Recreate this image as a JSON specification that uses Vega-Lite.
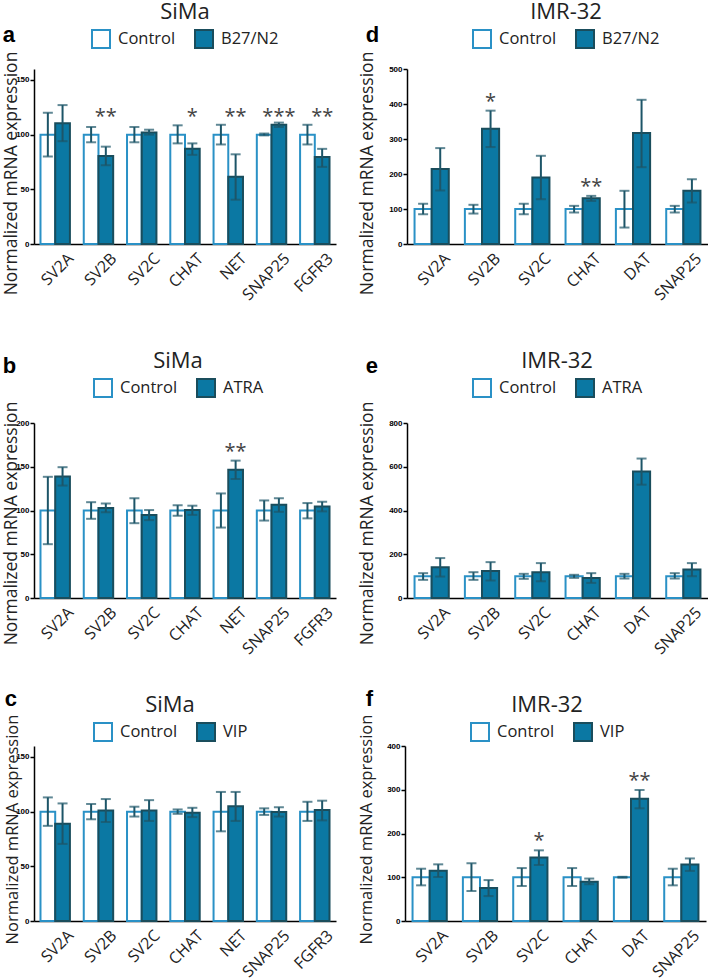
{
  "$schema": "https://vega.github.io/schema/vega-lite/v6.json",
  "padding": {"left": 2, "top": 2, "right": 0, "bottom": 0},
  "background": "white",
  "config": {
    "view": {"stroke": null},
    "font": "Open Sans",
    "scale": {"offsetBandPaddingInner": 0, "offsetBandPaddingOuter": 0},
    "title": {"anchor": "start", "frame": "bounds", "font": "Liberation Sans", "fontSize": 22, "fontWeight": "bold", "color": "#000", "offset": 0, "baseline": "alphabetic"},
    "axis": {"domainColor": "#000", "domainWidth": 1.5, "tickColor": "#000", "tickWidth": 1.5, "grid": false, "titleFont": "Open Sans", "titleFontWeight": "normal", "titleColor": "#222", "titleFontSize": 17.5},
    "axisY": {"labelFont": "Liberation Sans", "labelFontWeight": "bold", "labelFontSize": 8, "labelLineHeight": 8, "labelColor": "#000", "tickSize": 4, "labelPadding": 1, "labelAngle": 0, "labelOverlap": false},
    "axisX": {"ticks": false, "labelAngle": -45, "labelFont": "Open Sans", "labelFontSize": 16, "labelColor": "#222", "labelPadding": 6, "labelOffset": 10, "title": null},
    "legend": {"orient": "none", "direction": "horizontal", "symbolType": "square", "symbolSize": 324, "symbolStrokeWidth": 2, "labelFont": "Open Sans", "labelFontSize": 16.5, "labelColor": "#222", "labelOffset": 7, "columnPadding": 15, "titleFont": "Open Sans", "titleFontSize": 22, "titleFontWeight": "normal", "titleColor": "#222", "titleAnchor": "middle", "titlePadding": 5, "padding": 0}
  },
  "datasets": {
    "a": [
      {"gene": "SV2A", "condition": "Control", "mean": 100, "lower": 80, "upper": 120},
      {"gene": "SV2A", "condition": "B27/N2", "mean": 110.5, "lower": 94, "upper": 127},
      {"gene": "SV2B", "condition": "Control", "mean": 100, "lower": 93, "upper": 107},
      {"gene": "SV2B", "condition": "B27/N2", "mean": 80.5, "lower": 72, "upper": 89, "sig": "**"},
      {"gene": "SV2C", "condition": "Control", "mean": 100, "lower": 93, "upper": 107},
      {"gene": "SV2C", "condition": "B27/N2", "mean": 102, "lower": 100, "upper": 104.5},
      {"gene": "CHAT", "condition": "Control", "mean": 100, "lower": 92, "upper": 108.5},
      {"gene": "CHAT", "condition": "B27/N2", "mean": 87, "lower": 81.5, "upper": 92, "sig": "*"},
      {"gene": "NET", "condition": "Control", "mean": 100, "lower": 91, "upper": 109},
      {"gene": "NET", "condition": "B27/N2", "mean": 61.5, "lower": 40.5, "upper": 82, "sig": "**"},
      {"gene": "SNAP25", "condition": "Control", "mean": 100, "lower": 99.3, "upper": 101},
      {"gene": "SNAP25", "condition": "B27/N2", "mean": 109, "lower": 107, "upper": 111, "sig": "***"},
      {"gene": "FGFR3", "condition": "Control", "mean": 100, "lower": 91, "upper": 109},
      {"gene": "FGFR3", "condition": "B27/N2", "mean": 79.5, "lower": 70.5, "upper": 87, "sig": "**"}
    ],
    "b": [
      {"gene": "SV2A", "condition": "Control", "mean": 100, "lower": 61.5, "upper": 138.5},
      {"gene": "SV2A", "condition": "ATRA", "mean": 139, "lower": 128.5, "upper": 149.5},
      {"gene": "SV2B", "condition": "Control", "mean": 100, "lower": 90.5, "upper": 109.5},
      {"gene": "SV2B", "condition": "ATRA", "mean": 103, "lower": 98, "upper": 108},
      {"gene": "SV2C", "condition": "Control", "mean": 100, "lower": 85.5, "upper": 114},
      {"gene": "SV2C", "condition": "ATRA", "mean": 95, "lower": 89, "upper": 100.5},
      {"gene": "CHAT", "condition": "Control", "mean": 100, "lower": 94, "upper": 106},
      {"gene": "CHAT", "condition": "ATRA", "mean": 100.5, "lower": 95, "upper": 105.5},
      {"gene": "NET", "condition": "Control", "mean": 100, "lower": 80.5, "upper": 119.5},
      {"gene": "NET", "condition": "ATRA", "mean": 146.5, "lower": 136, "upper": 157, "sig": "**"},
      {"gene": "SNAP25", "condition": "Control", "mean": 100, "lower": 88.5, "upper": 111.5},
      {"gene": "SNAP25", "condition": "ATRA", "mean": 106.5, "lower": 98.5, "upper": 114},
      {"gene": "FGFR3", "condition": "Control", "mean": 100, "lower": 91, "upper": 108.5},
      {"gene": "FGFR3", "condition": "ATRA", "mean": 104.5, "lower": 99, "upper": 110}
    ],
    "c": [
      {"gene": "SV2A", "condition": "Control", "mean": 100, "lower": 87, "upper": 113},
      {"gene": "SV2A", "condition": "VIP", "mean": 89, "lower": 70.5, "upper": 107.5},
      {"gene": "SV2B", "condition": "Control", "mean": 100, "lower": 93, "upper": 107},
      {"gene": "SV2B", "condition": "VIP", "mean": 101, "lower": 90.5, "upper": 111.5},
      {"gene": "SV2C", "condition": "Control", "mean": 100, "lower": 95.5, "upper": 104.5},
      {"gene": "SV2C", "condition": "VIP", "mean": 101, "lower": 91.5, "upper": 110.5},
      {"gene": "CHAT", "condition": "Control", "mean": 100, "lower": 98, "upper": 102},
      {"gene": "CHAT", "condition": "VIP", "mean": 99, "lower": 95, "upper": 103.5},
      {"gene": "NET", "condition": "Control", "mean": 100, "lower": 82, "upper": 118},
      {"gene": "NET", "condition": "VIP", "mean": 105, "lower": 91.5, "upper": 118},
      {"gene": "SNAP25", "condition": "Control", "mean": 100, "lower": 97, "upper": 103},
      {"gene": "SNAP25", "condition": "VIP", "mean": 99.7, "lower": 95.5, "upper": 104},
      {"gene": "FGFR3", "condition": "Control", "mean": 100, "lower": 91.5, "upper": 109},
      {"gene": "FGFR3", "condition": "VIP", "mean": 101.5, "lower": 92, "upper": 110}
    ],
    "d": [
      {"gene": "SV2A", "condition": "Control", "mean": 100, "lower": 85, "upper": 115},
      {"gene": "SV2A", "condition": "B27/N2", "mean": 214.5, "lower": 153, "upper": 274},
      {"gene": "SV2B", "condition": "Control", "mean": 100, "lower": 87, "upper": 112},
      {"gene": "SV2B", "condition": "B27/N2", "mean": 329, "lower": 277, "upper": 381, "sig": "*"},
      {"gene": "SV2C", "condition": "Control", "mean": 100, "lower": 85, "upper": 115},
      {"gene": "SV2C", "condition": "B27/N2", "mean": 190, "lower": 128, "upper": 252},
      {"gene": "CHAT", "condition": "Control", "mean": 100, "lower": 90, "upper": 109},
      {"gene": "CHAT", "condition": "B27/N2", "mean": 130.5, "lower": 123, "upper": 137.5, "sig": "**"},
      {"gene": "DAT", "condition": "Control", "mean": 100, "lower": 47, "upper": 152},
      {"gene": "DAT", "condition": "B27/N2", "mean": 317, "lower": 219.5, "upper": 412},
      {"gene": "SNAP25", "condition": "Control", "mean": 100, "lower": 90, "upper": 109},
      {"gene": "SNAP25", "condition": "B27/N2", "mean": 152.5, "lower": 118.5, "upper": 185}
    ],
    "e": [
      {"gene": "SV2A", "condition": "Control", "mean": 100, "lower": 83, "upper": 113.5},
      {"gene": "SV2A", "condition": "ATRA", "mean": 141, "lower": 98, "upper": 182.5},
      {"gene": "SV2B", "condition": "Control", "mean": 100, "lower": 83, "upper": 118},
      {"gene": "SV2B", "condition": "ATRA", "mean": 123, "lower": 80, "upper": 164},
      {"gene": "SV2C", "condition": "Control", "mean": 100, "lower": 87.5, "upper": 110.5},
      {"gene": "SV2C", "condition": "ATRA", "mean": 118, "lower": 76.5, "upper": 159.5},
      {"gene": "CHAT", "condition": "Control", "mean": 100, "lower": 92, "upper": 106},
      {"gene": "CHAT", "condition": "ATRA", "mean": 91, "lower": 69, "upper": 113.5},
      {"gene": "DAT", "condition": "Control", "mean": 100, "lower": 89, "upper": 110.5},
      {"gene": "DAT", "condition": "ATRA", "mean": 578, "lower": 518, "upper": 637.5},
      {"gene": "SNAP25", "condition": "Control", "mean": 100, "lower": 89, "upper": 113.5},
      {"gene": "SNAP25", "condition": "ATRA", "mean": 130, "lower": 99.5, "upper": 159.5}
    ],
    "f": [
      {"gene": "SV2A", "condition": "Control", "mean": 100, "lower": 81.5, "upper": 119.5},
      {"gene": "SV2A", "condition": "VIP", "mean": 115, "lower": 100.5, "upper": 129.5},
      {"gene": "SV2B", "condition": "Control", "mean": 100, "lower": 68.5, "upper": 132},
      {"gene": "SV2B", "condition": "VIP", "mean": 75.5, "lower": 57, "upper": 93.5},
      {"gene": "SV2C", "condition": "Control", "mean": 100, "lower": 80, "upper": 121},
      {"gene": "SV2C", "condition": "VIP", "mean": 145, "lower": 128, "upper": 161.5, "sig": "*"},
      {"gene": "CHAT", "condition": "Control", "mean": 100, "lower": 80, "upper": 121},
      {"gene": "CHAT", "condition": "VIP", "mean": 90, "lower": 84, "upper": 97},
      {"gene": "DAT", "condition": "Control", "mean": 100, "lower": 99, "upper": 101},
      {"gene": "DAT", "condition": "VIP", "mean": 279.5, "lower": 257.5, "upper": 299.5, "sig": "**"},
      {"gene": "SNAP25", "condition": "Control", "mean": 100, "lower": 81.5, "upper": 119.5},
      {"gene": "SNAP25", "condition": "VIP", "mean": 129, "lower": 114.5, "upper": 143}
    ]
  },
  "resolve": {"scale": {"x": "independent", "y": "independent", "xOffset": "independent", "fill": "independent", "stroke": "independent"}, "axis": {"x": "independent", "y": "independent"}, "legend": {"fill": "independent", "stroke": "independent"}},
  "spacing": 48,
  "vconcat": [
    {
      "spacing": 22,
      "resolve": {"scale": {"x": "independent", "y": "independent", "xOffset": "independent", "fill": "independent", "stroke": "independent"}, "axis": {"x": "independent", "y": "independent"}, "legend": {"fill": "independent", "stroke": "independent"}},
      "hconcat": [
        {
          "width": 302, "height": 175,
          "title": {"text": "a", "dy": 49},
          "data": {"name": "a"},
          "encoding": {
            "x": {"field": "gene", "type": "nominal", "sort": null, "scale": {"type": "band", "paddingInner": 0.32, "paddingOuter": 0.15}},
            "xOffset": {"field": "condition", "type": "nominal", "sort": null, "scale": {"type": "band", "paddingInner": 0, "paddingOuter": 0}}
          },
          "layer": [
            {"mark": {"type": "bar", "strokeWidth": 2},
             "encoding": {
               "y": {"field": "mean", "type": "quantitative", "title": "Normalized mRNA expression", "scale": {"domain": [0, 150]}, "axis": {"values": [0, 50, 100, 150], "labelOverlap": false, "titleY": 104, "titlePadding": -5}},
               "fill": {"field": "condition", "type": "nominal", "sort": null, "scale": {"range": ["#ffffff", "#0b78a3"]}, "legend": {"title": "SiMa", "legendX": 57, "legendY": -67}},
               "stroke": {"field": "condition", "type": "nominal", "sort": null, "scale": {"range": ["#2a91c6", "#1a4d5c"]}, "legend": {"title": "SiMa", "legendX": 57, "legendY": -67}}
             }},
            {"mark": {"type": "rule", "strokeWidth": 2, "color": "#1d5568"}, "encoding": {"y": {"field": "lower", "type": "quantitative", "title": "Normalized mRNA expression", "axis": {"values": [0, 50, 100, 150], "labelOverlap": false}}, "y2": {"field": "upper"}}},
            {"mark": {"type": "tick", "thickness": 2, "size": 10, "color": "#1d5568"}, "encoding": {"y": {"field": "upper", "type": "quantitative", "title": "Normalized mRNA expression", "axis": {"values": [0, 50, 100, 150], "labelOverlap": false}}}},
            {"mark": {"type": "tick", "thickness": 2, "size": 10, "color": "#1d5568"}, "encoding": {"y": {"field": "lower", "type": "quantitative", "title": "Normalized mRNA expression", "axis": {"values": [0, 50, 100, 150], "labelOverlap": false}}}},
            {"transform": [{"filter": "datum.sig"}], "mark": {"type": "text", "font": "Open Sans", "fontSize": 20, "color": "#444", "baseline": "middle", "dy": -2}, "encoding": {"y": {"datum": 114.5}, "text": {"field": "sig"}}}
          ]
        },
        {
          "width": 301, "height": 175,
          "title": {"text": "d", "dy": 49, "dx": 7},
          "data": {"name": "d"},
          "encoding": {
            "x": {"field": "gene", "type": "nominal", "sort": null, "scale": {"type": "band", "paddingInner": 0.32, "paddingOuter": 0.15}},
            "xOffset": {"field": "condition", "type": "nominal", "sort": null, "scale": {"type": "band", "paddingInner": 0, "paddingOuter": 0}}
          },
          "layer": [
            {"mark": {"type": "bar", "strokeWidth": 2},
             "encoding": {
               "y": {"field": "mean", "type": "quantitative", "title": "Normalized mRNA expression", "scale": {"domain": [0, 500]}, "axis": {"values": [0, 100, 200, 300, 400, 500], "tickCount": 6, "labelOverlap": false, "labelFontSize": 8, "labelLineHeight": 8, "titleY": 104, "titlePadding": 12}},
               "fill": {"field": "condition", "type": "nominal", "sort": null, "scale": {"range": ["#ffffff", "#0b78a3"]}, "legend": {"title": "IMR-32", "legendX": 65, "legendY": -67}},
               "stroke": {"field": "condition", "type": "nominal", "sort": null, "scale": {"range": ["#2a91c6", "#1a4d5c"]}, "legend": {"title": "IMR-32", "legendX": 65, "legendY": -67}}
             }},
            {"mark": {"type": "rule", "strokeWidth": 2, "color": "#1d5568"}, "encoding": {"y": {"field": "lower", "type": "quantitative", "title": "Normalized mRNA expression", "axis": {"values": [0, 100, 200, 300, 400, 500], "labelOverlap": false}}, "y2": {"field": "upper"}}},
            {"mark": {"type": "tick", "thickness": 2, "size": 10, "color": "#1d5568"}, "encoding": {"y": {"field": "upper", "type": "quantitative", "title": "Normalized mRNA expression", "axis": {"values": [0, 100, 200, 300, 400, 500], "labelOverlap": false}}}},
            {"mark": {"type": "tick", "thickness": 2, "size": 10, "color": "#1d5568"}, "encoding": {"y": {"field": "lower", "type": "quantitative", "title": "Normalized mRNA expression", "axis": {"values": [0, 100, 200, 300, 400, 500], "labelOverlap": false}}}},
            {"transform": [{"filter": "datum.sig"}], "mark": {"type": "text", "font": "Open Sans", "fontSize": 20, "color": "#444", "baseline": "middle", "dy": -9}, "encoding": {"y": {"field": "upper", "type": "quantitative", "title": "Normalized mRNA expression", "axis": {"values": [0, 100, 200, 300, 400, 500], "labelOverlap": false}}, "text": {"field": "sig"}}}
          ]
        }
      ]
    },
    {
      "spacing": 30,
      "resolve": {"scale": {"x": "independent", "y": "independent", "xOffset": "independent", "fill": "independent", "stroke": "independent"}, "axis": {"x": "independent", "y": "independent"}, "legend": {"fill": "independent", "stroke": "independent"}},
      "vconcat": [
        {
          "spacing": 22,
          "resolve": {"scale": {"x": "independent", "y": "independent", "xOffset": "independent", "fill": "independent", "stroke": "independent"}, "axis": {"x": "independent", "y": "independent"}, "legend": {"fill": "independent", "stroke": "independent"}},
          "hconcat": [
            {
              "width": 302, "height": 175,
              "title": {"text": "b", "dy": 31},
              "data": {"name": "b"},
              "encoding": {
                "x": {"field": "gene", "type": "nominal", "sort": null, "scale": {"type": "band", "paddingInner": 0.32, "paddingOuter": 0.15}},
                "xOffset": {"field": "condition", "type": "nominal", "sort": null, "scale": {"type": "band", "paddingInner": 0, "paddingOuter": 0}}
              },
              "layer": [
                {"mark": {"type": "bar", "strokeWidth": 2},
                 "encoding": {
                   "y": {"field": "mean", "type": "quantitative", "title": "Normalized mRNA expression", "scale": {"domain": [0, 200]}, "axis": {"values": [0, 50, 100, 150, 200], "labelOverlap": false, "titleY": 100, "titlePadding": -5}},
                   "fill": {"field": "condition", "type": "nominal", "sort": null, "scale": {"range": ["#ffffff", "#0b78a3"]}, "legend": {"title": "SiMa", "legendX": 59, "legendY": -72}},
                   "stroke": {"field": "condition", "type": "nominal", "sort": null, "scale": {"range": ["#2a91c6", "#1a4d5c"]}, "legend": {"title": "SiMa", "legendX": 59, "legendY": -72}}
                 }},
                {"mark": {"type": "rule", "strokeWidth": 2, "color": "#1d5568"}, "encoding": {"y": {"field": "lower", "type": "quantitative", "title": "Normalized mRNA expression", "axis": {"values": [0, 50, 100, 150, 200], "labelOverlap": false}}, "y2": {"field": "upper"}}},
                {"mark": {"type": "tick", "thickness": 2, "size": 10, "color": "#1d5568"}, "encoding": {"y": {"field": "upper", "type": "quantitative", "title": "Normalized mRNA expression", "axis": {"values": [0, 50, 100, 150, 200], "labelOverlap": false}}}},
                {"mark": {"type": "tick", "thickness": 2, "size": 10, "color": "#1d5568"}, "encoding": {"y": {"field": "lower", "type": "quantitative", "title": "Normalized mRNA expression", "axis": {"values": [0, 50, 100, 150, 200], "labelOverlap": false}}}},
                {"transform": [{"filter": "datum.sig"}], "mark": {"type": "text", "font": "Open Sans", "fontSize": 20, "color": "#444", "baseline": "middle", "dy": -9}, "encoding": {"y": {"field": "upper", "type": "quantitative", "title": "Normalized mRNA expression", "axis": {"values": [0, 50, 100, 150, 200], "labelOverlap": false}}, "text": {"field": "sig"}}}
              ]
            },
            {
              "width": 301, "height": 175,
              "title": {"text": "e", "dy": 31, "dx": 7},
              "data": {"name": "e"},
              "encoding": {
                "x": {"field": "gene", "type": "nominal", "sort": null, "scale": {"type": "band", "paddingInner": 0.32, "paddingOuter": 0.15}},
                "xOffset": {"field": "condition", "type": "nominal", "sort": null, "scale": {"type": "band", "paddingInner": 0, "paddingOuter": 0}}
              },
              "layer": [
                {"mark": {"type": "bar", "strokeWidth": 2},
                 "encoding": {
                   "y": {"field": "mean", "type": "quantitative", "title": "Normalized mRNA expression", "scale": {"domain": [0, 800]}, "axis": {"values": [0, 200, 400, 600, 800], "labelOverlap": false, "titleY": 100, "titlePadding": 12}},
                   "fill": {"field": "condition", "type": "nominal", "sort": null, "scale": {"range": ["#ffffff", "#0b78a3"]}, "legend": {"title": "IMR-32", "legendX": 65, "legendY": -72}},
                   "stroke": {"field": "condition", "type": "nominal", "sort": null, "scale": {"range": ["#2a91c6", "#1a4d5c"]}, "legend": {"title": "IMR-32", "legendX": 65, "legendY": -72}}
                 }},
                {"mark": {"type": "rule", "strokeWidth": 2, "color": "#1d5568"}, "encoding": {"y": {"field": "lower", "type": "quantitative", "title": "Normalized mRNA expression", "axis": {"values": [0, 200, 400, 600, 800], "labelOverlap": false}}, "y2": {"field": "upper"}}},
                {"mark": {"type": "tick", "thickness": 2, "size": 10, "color": "#1d5568"}, "encoding": {"y": {"field": "upper", "type": "quantitative", "title": "Normalized mRNA expression", "axis": {"values": [0, 200, 400, 600, 800], "labelOverlap": false}}}},
                {"mark": {"type": "tick", "thickness": 2, "size": 10, "color": "#1d5568"}, "encoding": {"y": {"field": "lower", "type": "quantitative", "title": "Normalized mRNA expression", "axis": {"values": [0, 200, 400, 600, 800], "labelOverlap": false}}}}
              ]
            }
          ]
        },
        {
          "spacing": 22,
          "resolve": {"scale": {"x": "independent", "y": "independent", "xOffset": "independent", "fill": "independent", "stroke": "independent"}, "axis": {"x": "independent", "y": "independent"}, "legend": {"fill": "independent", "stroke": "independent"}},
          "hconcat": [
            {
              "width": 302, "height": 175,
              "title": {"text": "c", "dy": 19.5},
              "data": {"name": "c"},
              "encoding": {
                "x": {"field": "gene", "type": "nominal", "sort": null, "scale": {"type": "band", "paddingInner": 0.32, "paddingOuter": 0.15}},
                "xOffset": {"field": "condition", "type": "nominal", "sort": null, "scale": {"type": "band", "paddingInner": 0, "paddingOuter": 0}}
              },
              "layer": [
                {"mark": {"type": "bar", "strokeWidth": 2},
                 "encoding": {
                   "y": {"field": "mean", "type": "quantitative", "title": "Normalized mRNA expression", "scale": {"domain": [0, 150]}, "axis": {"values": [0, 50, 100, 150], "labelOverlap": false, "titleY": 83, "titlePadding": -5, "titleFontSize": 16.5}},
                   "fill": {"field": "condition", "type": "nominal", "sort": null, "scale": {"range": ["#ffffff", "#0b78a3"]}, "legend": {"title": "SiMa", "legendX": 59, "legendY": -51}},
                   "stroke": {"field": "condition", "type": "nominal", "sort": null, "scale": {"range": ["#2a91c6", "#1a4d5c"]}, "legend": {"title": "SiMa", "legendX": 59, "legendY": -51}}
                 }},
                {"mark": {"type": "rule", "strokeWidth": 2, "color": "#1d5568"}, "encoding": {"y": {"field": "lower", "type": "quantitative", "title": "Normalized mRNA expression", "axis": {"values": [0, 50, 100, 150], "labelOverlap": false}}, "y2": {"field": "upper"}}},
                {"mark": {"type": "tick", "thickness": 2, "size": 10, "color": "#1d5568"}, "encoding": {"y": {"field": "upper", "type": "quantitative", "title": "Normalized mRNA expression", "axis": {"values": [0, 50, 100, 150], "labelOverlap": false}}}},
                {"mark": {"type": "tick", "thickness": 2, "size": 10, "color": "#1d5568"}, "encoding": {"y": {"field": "lower", "type": "quantitative", "title": "Normalized mRNA expression", "axis": {"values": [0, 50, 100, 150], "labelOverlap": false}}}}
              ]
            },
            {
              "width": 301, "height": 175,
              "title": {"text": "f", "dy": 19.5, "dx": 7},
              "data": {"name": "f"},
              "encoding": {
                "x": {"field": "gene", "type": "nominal", "sort": null, "scale": {"type": "band", "paddingInner": 0.32, "paddingOuter": 0.15}},
                "xOffset": {"field": "condition", "type": "nominal", "sort": null, "scale": {"type": "band", "paddingInner": 0, "paddingOuter": 0}}
              },
              "layer": [
                {"mark": {"type": "bar", "strokeWidth": 2},
                 "encoding": {
                   "y": {"field": "mean", "type": "quantitative", "title": "Normalized mRNA expression", "scale": {"domain": [0, 400]}, "axis": {"values": [0, 100, 200, 300, 400], "labelOverlap": false, "titleY": 83, "titlePadding": 12, "titleFontSize": 16.5}},
                   "fill": {"field": "condition", "type": "nominal", "sort": null, "scale": {"range": ["#ffffff", "#0b78a3"]}, "legend": {"title": "IMR-32", "legendX": 65, "legendY": -51}},
                   "stroke": {"field": "condition", "type": "nominal", "sort": null, "scale": {"range": ["#2a91c6", "#1a4d5c"]}, "legend": {"title": "IMR-32", "legendX": 65, "legendY": -51}}
                 }},
                {"mark": {"type": "rule", "strokeWidth": 2, "color": "#1d5568"}, "encoding": {"y": {"field": "lower", "type": "quantitative", "title": "Normalized mRNA expression", "axis": {"values": [0, 100, 200, 300, 400], "labelOverlap": false}}, "y2": {"field": "upper"}}},
                {"mark": {"type": "tick", "thickness": 2, "size": 10, "color": "#1d5568"}, "encoding": {"y": {"field": "upper", "type": "quantitative", "title": "Normalized mRNA expression", "axis": {"values": [0, 100, 200, 300, 400], "labelOverlap": false}}}},
                {"mark": {"type": "tick", "thickness": 2, "size": 10, "color": "#1d5568"}, "encoding": {"y": {"field": "lower", "type": "quantitative", "title": "Normalized mRNA expression", "axis": {"values": [0, 100, 200, 300, 400], "labelOverlap": false}}}},
                {"transform": [{"filter": "datum.sig"}], "mark": {"type": "text", "font": "Open Sans", "fontSize": 20, "color": "#444", "baseline": "middle", "dy": -9}, "encoding": {"y": {"field": "upper", "type": "quantitative", "title": "Normalized mRNA expression", "axis": {"values": [0, 100, 200, 300, 400], "labelOverlap": false}}, "text": {"field": "sig"}}}
              ]
            }
          ]
        }
      ]
    }
  ]
}
